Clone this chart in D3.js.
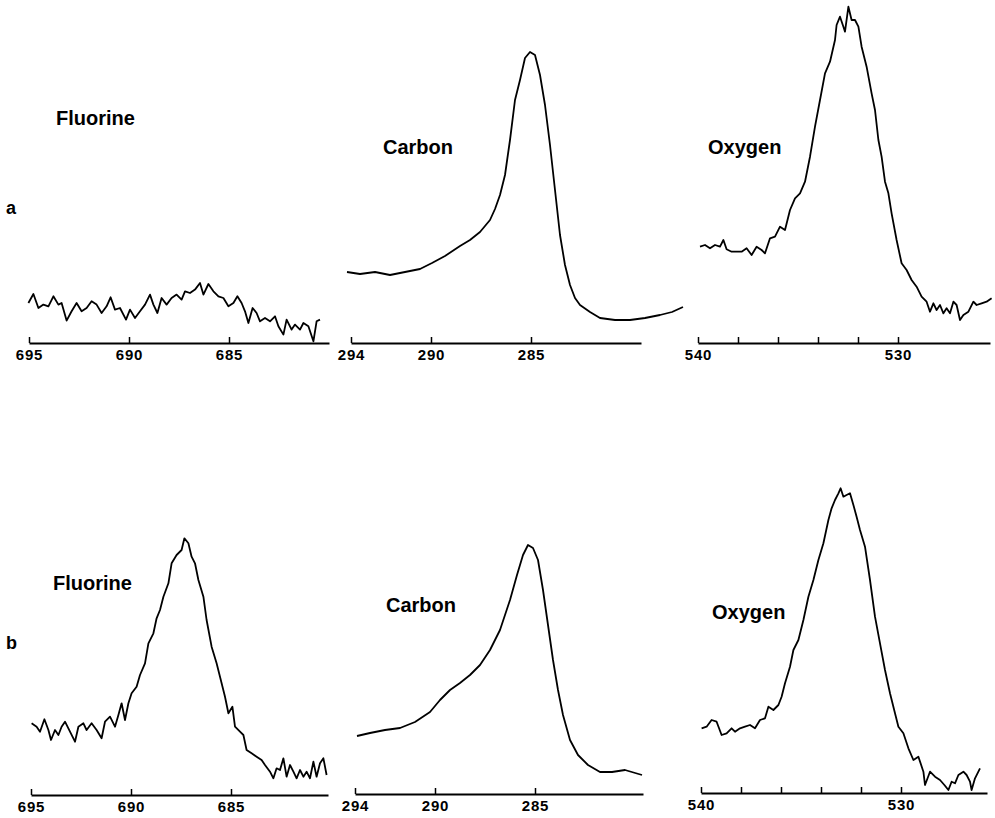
<!DOCTYPE html>
<html>
<head>
<meta charset="utf-8">
<script src="https://cdn.jsdelivr.net/npm/d3@7/dist/d3.min.js"></script>
<style>
body { margin: 0; background: #fff; }
text { font-family: "Liberation Sans", Arial, sans-serif; font-weight: bold; fill: #000; }
</style>
</head>
<body>
<script>
var width = 995,
    height = 818;

// binding energy (eV), intensity (arbitrary units)
var fluorineA = [
  [695.03,40],[694.78,49],[694.53,35],[694.28,38.4],[694.03,36.7],[693.78,46.7],[693.53,38.4],[693.37,40],
  [693.12,22.4],[692.87,31.7],[692.62,40],[692.37,31.7],[692.12,35],[691.87,41.7],[691.62,38.4],[691.37,30],
  [691.12,36.7],[690.92,45.7],[690.70,33.4],[690.45,35],[690.15,23.4],[689.95,33.4],[689.70,25],[689.45,31.7],
  [689.20,38.4],[688.95,48.4],[688.78,38.4],[688.58,30],[688.37,45],[688.12,38.4],[687.87,45],[687.62,48.4],
  [687.37,43.4],[687.20,51.7],[686.95,50],[686.70,53.4],[686.45,60],[686.28,48.4],[686.03,59],[685.78,51.7],
  [685.53,46.7],[685.28,45],[685.03,36.7],[684.78,40],[684.58,46.7],[684.37,40],[684.20,31.7],[684.03,20],
  [683.82,35],[683.62,30],[683.45,21.7],[683.20,25],[682.95,21.7],[682.70,26.7],[682.53,16.7],[682.28,8.4],
  [682.12,23.4],[681.87,13.4],[681.70,18.4],[681.45,13.4],[681.28,20],[681.03,16.7],[680.78,1.7],[680.62,21.7],
  [680.45,23.4]
];

var carbonA = [
  [294.20,71],[293.55,69],[292.80,71],[292.05,68],[291.30,71],[290.55,74],[289.95,80],[289.30,87],
  [288.55,97],[288.05,103],[287.55,111],[287.05,123],[286.80,134],[286.55,148],[286.30,168],[286.05,203],[285.80,243],
  [285.55,263],[285.30,285],[285.05,291],[284.80,288],[284.55,268],[284.30,238],[284.05,198],[283.80,153],
  [283.55,108],[283.30,78],[283.05,58],[282.80,45],[282.55,38],[282.05,31],[281.55,25],[280.80,23],
  [280.05,23],[279.30,25],[278.55,28],[277.95,31],[277.40,36]
];

var oxygenA = [
  [539.90,96.3],[539.65,98],[539.40,94.7],[539.15,98],[538.90,96.3],[538.73,103],[538.57,93.7],[538.32,91.3],
  [538.07,91.3],[537.82,91.3],[537.57,94.7],[537.32,88],[537.07,96.3],[536.82,93],[536.65,89.7],[536.40,104.7],
  [536.15,106.3],[535.90,116.3],[535.65,113],[535.40,133],[535.15,144.7],[534.90,149.7],[534.65,161.3],[534.40,186.3],
  [534.15,216.3],[533.90,243],[533.65,269.7],[533.40,281.3],[533.15,303],[533.07,318],[532.90,326.3],[532.73,316.3],
  [532.65,311.3],[532.48,336.3],[532.32,323],[532.15,323],[531.98,316.3],[531.82,296.3],[531.57,276.3],[531.32,249.7],
  [531.15,233],[530.98,203],[530.82,186.3],[530.65,161.3],[530.48,149.7],[530.32,129.7],[530.07,103],[529.82,79.7],
  [529.57,73],[529.32,63],[529.07,56.3],[528.82,46.3],[528.57,41.3],[528.40,31.3],[528.23,39.7],[528.07,33],
  [527.90,38],[527.73,29.7],[527.57,34.7],[527.40,29.7],[527.23,41.3],[527.07,38],[526.90,23],[526.73,28],
  [526.48,31.3],[526.23,41.3],[526.07,38],[525.82,39.7],[525.57,41.3],[525.32,44.7]
];

var fluorineB = [
  [694.97,71.7],[694.72,68.3],[694.55,63.3],[694.33,75.7],[694.13,65],[694.00,55],[693.80,65],[693.63,60],
  [693.47,68.3],[693.30,73.3],[693.05,63.3],[692.80,53.3],[692.63,68.3],[692.38,71.7],[692.22,65],[691.97,71.7],
  [691.72,65],[691.47,56.7],[691.30,73.3],[691.05,78.3],[690.80,68.3],[690.63,80],[690.47,91.7],[690.30,75],
  [690.13,91.7],[689.97,101.7],[689.72,108.3],[689.55,120],[689.30,131.7],[689.13,151.7],[688.88,161.7],[688.72,176.7],
  [688.55,185],[688.38,198.3],[688.13,211.7],[687.97,231.7],[687.72,240],[687.47,245],[687.33,256.7],[687.13,251.7],
  [686.97,238.3],[686.80,231.7],[686.63,215],[686.38,198.3],[686.22,175],[685.97,148.3],[685.72,131.7],[685.55,118.3],
  [685.30,98.3],[685.13,81.7],[684.93,88.3],[684.80,68.3],[684.55,63.3],[684.38,60],[684.22,45],[683.97,41.7],
  [683.72,38.3],[683.47,35],[683.30,30],[683.05,23.3],[682.88,16.7],[682.72,26.7],[682.55,25],[682.38,36.7],
  [682.22,18.3],[682.05,30],[681.88,23.3],[681.72,16.7],[681.55,25],[681.38,18.3],[681.22,23.3],[681.05,16.7],
  [680.88,33.3],[680.72,18.3],[680.55,31.7],[680.38,36.7],[680.22,20]
];

var carbonB = [
  [293.90,58],[293.25,61],[292.50,64],[291.75,66],[291.00,72],[290.25,82],[289.75,94],[289.25,104],
  [288.75,111],[288.25,119],[287.75,129],[287.25,144],[286.75,164],[286.25,194],[285.90,219],[285.60,239],
  [285.35,249],[285.10,246],[284.85,234],[284.60,204],[284.35,169],[284.10,134],[283.85,104],[283.60,79],
  [283.25,54],[282.85,39],[282.35,29],[281.75,22],[281.15,22],[280.50,24],[279.65,19]
];

var oxygenB = [
  [539.97,64.7],[539.72,66.3],[539.47,73],[539.22,71.3],[538.97,58],[538.72,59.7],[538.47,64.7],[538.30,61.3],
  [538.05,64.7],[537.80,66.3],[537.55,68],[537.30,64.7],[537.05,73],[536.80,74.7],[536.63,86.3],[536.38,83],
  [536.13,88],[535.97,96.3],[535.80,109.7],[535.55,126.3],[535.38,143],[535.13,153],[534.88,173],[534.63,196.3],
  [534.38,213],[534.13,233],[533.88,249.7],[533.63,273],[533.47,284.7],[533.30,293],[533.13,299.7],[533.02,304.7],
  [532.88,296.3],[532.72,298],[532.55,299.7],[532.38,288],[532.22,276.3],[532.05,263],[531.80,246.3],[531.55,213],
  [531.30,176.3],[531.05,149.7],[530.80,123],[530.55,99.7],[530.30,79.7],[530.13,66.3],[529.88,59.7],[529.63,44.7],
  [529.38,33],[529.13,36.3],[528.88,21.3],[528.80,8],[528.55,21.3],[528.30,16.3],[528.05,13],[527.83,8],
  [527.63,3],[527.47,11.3],[527.30,9.7],[527.13,18],[526.88,21.3],[526.72,18],[526.55,11.3],[526.47,3],
  [526.30,14.7],[526.05,24.7]
];

var fluorineTicks = [695, 690, 685],
    carbonTicks = [294, 290, 285],
    oxygenTicks = [540, 538, 536, 534, 532, 530];
var fluorineLabels = [695, 690, 685],
    carbonLabels = [294, 290, 285],
    oxygenLabels = [540, 530];

var rowLabels = ["a", "b"];

var svg = d3.select("body").append("svg")
    .attr("width", width)
    .attr("height", height);

var panels = [
  { title: "Fluorine", data: fluorineA, domain: [695, 680], range: [29, 329], axisY: 343,
    ticks: fluorineTicks, labels: fluorineLabels, tx: 56, ty: 125 },
  { title: "Carbon", data: carbonA, domain: [294, 279.5], range: [351, 641], axisY: 343,
    ticks: carbonTicks, labels: carbonLabels, tx: 383, ty: 154 },
  { title: "Oxygen", data: oxygenA, domain: [540, 525.4], range: [698, 990], axisY: 343,
    ticks: oxygenTicks, labels: oxygenLabels, tx: 708, ty: 154 },
  { title: "Fluorine", data: fluorineB, domain: [695, 680.15], range: [31, 328], axisY: 795,
    ticks: fluorineTicks, labels: fluorineLabels, tx: 53, ty: 590 },
  { title: "Carbon", data: carbonB, domain: [294, 279.6], range: [355, 643], axisY: 794,
    ticks: carbonTicks, labels: carbonLabels, tx: 386, ty: 612 },
  { title: "Oxygen", data: oxygenB, domain: [540, 525.7], range: [701, 987], axisY: 793,
    ticks: oxygenTicks, labels: oxygenLabels, tx: 712, ty: 619 }
];

panels.forEach(function(p) {
    var x = d3.scaleLinear().domain(p.domain).range(p.range),
        y = d3.scaleLinear().domain([0, 340]).range([p.axisY, p.axisY - 340]);

    var g = svg.append("g");

    var axis = d3.axisBottom(x)
        .tickValues(p.ticks)
        .tickFormat(function(d) { return p.labels.indexOf(d) >= 0 ? d : ""; })
        .tickSizeInner(-6)
        .tickSizeOuter(0)
        .tickPadding(6);

    var gAxis = g.append("g")
        .attr("transform", "translate(0," + p.axisY + ")")
        .call(axis);
    gAxis.select(".domain").attr("stroke", "#000").attr("stroke-width", 2);
    gAxis.selectAll(".tick line").attr("stroke", "#000").attr("stroke-width", 1.5);
    gAxis.selectAll(".tick text")
        .attr("font-size", 15)
        .attr("letter-spacing", 0.8)
        .attr("font-family", "Liberation Sans, Arial, sans-serif")
        .attr("font-weight", "bold")
        .attr("fill", "#000");

    var line = d3.line()
        .curve(d3.curveLinear)
        .x(function(d) { return x(d[0]); })
        .y(function(d) { return y(d[1]); });

    g.append("path")
        .datum(p.data)
        .attr("fill", "none")
        .attr("stroke", "#000")
        .attr("stroke-width", 1.8)
        .attr("stroke-linejoin", "round")
        .attr("d", line);

    g.append("text")
        .attr("x", p.tx)
        .attr("y", p.ty)
        .attr("font-size", 20)
        .text(p.title);
});

// row letters
svg.selectAll(".row-label")
    .data(rowLabels)
    .enter().append("text")
    .attr("class", "row-label")
    .attr("x", 6)
    .attr("y", function(d, i) { return i === 0 ? 214 : 649; })
    .attr("font-size", 18)
    .text(function(d) { return d; });
</script>
</body>
</html>
